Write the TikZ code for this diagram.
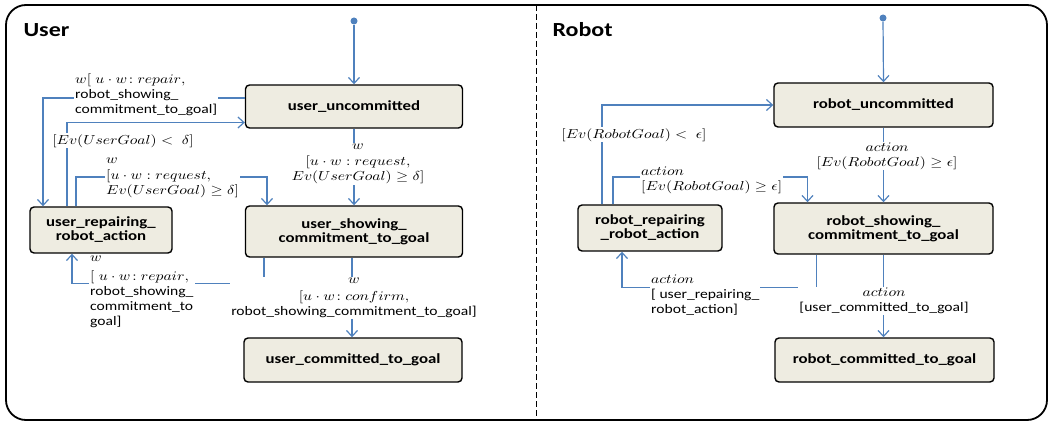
\documentclass[tikz,border=0pt]{standalone}
\usepackage{fontspec}
\setmainfont{Carlito}[FakeStretch=1.2]
\usepackage{graphicx}
\usetikzlibrary{arrows.meta}
\definecolor{edgeblue}{RGB}{79,129,189}
\definecolor{statefill}{RGB}{238,236,225}
\newcommand\mth[1]{\scalebox{1.56}[1.3]{\normalsize$#1$}}
\begin{document}
\begin{tikzpicture}[x=1pt, y=-1pt,
	state/.style = {draw, line width=1.4pt, rounded corners=4pt, fill=statefill, align=center, inner sep=0pt, font=\fontsize{14}{14}\selectfont\bfseries},
	trans/.style = {draw=edgeblue, line width=1.2pt, -{Straight Barb[length=6pt, width=11pt]}},
	lbl/.style = {fill=white, inner sep=1pt, font=\fontsize{13}{15}\selectfont},
	dot/.style = {circle, fill=edgeblue, inner sep=0pt, minimum size=7pt},
	title/.style = {anchor=west, font=\fontsize{20}{20}\selectfont\bfseries}]
		\useasboundingbox (0,0) rectangle (1053,422);
		% Rahmen
		\draw[line width=1.8pt, rounded corners=20pt] (6,5) rectangle (1047,420);
		\draw[dashed, dash pattern=on 6pt off 3pt] (536,5) -- (536,420);
		\node[title] (tuser) at (20,30) {User};
		\node[title] (trobot) at (549,30) {Robot};
		% Zustaende User
		\node[dot] (u0) at (354,21) {};
		\node[state, minimum width=217pt, minimum height=43pt] (uu) at (354,106.5) {user\_uncommitted};
		\node[state, minimum width=142pt, minimum height=46pt] (ur) at (101,230) {user\_repairing\_\\robot\_action};
		\node[state, minimum width=217pt, minimum height=51pt] (us) at (354,231.5) {user\_showing\_\\commitment\_to\_goal};
		\node[state, minimum width=218pt, minimum height=44pt] (uc) at (353,360) {user\_committed\_to\_goal};
		% Zustaende Robot
		\node[dot] (r0) at (883,18) {};
		\node[state, minimum width=219pt, minimum height=44pt] (ru) at (883.5,105) {robot\_uncommitted};
		\node[state, minimum width=144pt, minimum height=46pt] (rr) at (650,228) {robot\_repairing\\\_robot\_action};
		\node[state, minimum width=219pt, minimum height=51pt] (rs) at (883.5,228.5) {robot\_showing\_\\commitment\_to\_goal};
		\node[state, minimum width=219pt, minimum height=44pt] (rc) at (884.5,360) {robot\_committed\_to\_goal};
		% Uebergaenge User
		\draw[trans] (u0) -- (uu.north);							% start
		\draw[trans] (uu.south) -- (us.north);						% uu-us
		\draw[trans] (uu.west |- 0,98) -| ([xshift=-58pt]ur.north);		% uu-ur
		\draw[trans] ([xshift=-34pt]ur.north) |- ([yshift=-16pt]uu.west);	% ur-uu
		\draw[trans] ([xshift=-25pt]ur.north) |- ([xshift=-87pt]us.north |- 0,177) -- ([xshift=-87pt]us.north);	% ur-us
		\draw[trans] ([xshift=-90pt]us.south) -- ++(0,26) -| ([xshift=-29pt]ur.south);	% us-ur
		\draw[trans] ([xshift=-2pt]us.south) -- ([xshift=-1pt]uc.north);		% us-uc
		% Uebergaenge Robot
		\draw[trans] (r0) -- (ru.north);							% start
		\draw[trans] (ru.south) -- (rs.north);						% ru-rs
		\draw[trans] ([xshift=-48pt]rr.north) |- (ru.west);				% rr-ru
		\draw[trans] ([xshift=-37pt]rr.north) |- ([xshift=-76pt]rs.north |- 0,177) -- ([xshift=-76pt]rs.north);	% rr-rs
		\draw[trans] ([xshift=-67pt]rs.south) -- ++(0,33) -| ([xshift=-28pt]rr.south);	% rs-rr
		\draw[trans] (rs.south) -- ([xshift=-1pt]rc.north);				% rs-rc
		% Beschriftungen User
		\node[lbl, align=center] (luus) at (358,164) {\mth{w}\\[1pt] \mth{[u\cdot w : \mathnormal{request},}\\ \mth{Ev(UserGoal) \geq \delta]}};
		\node[lbl, align=left, anchor=north west] (luur) at (74,73) {\mth{w[\ u\cdot w\!: \mathnormal{repair},}\\ robot\_showing\_\\ commitment\_to\_goal]};
		\node[lbl] (luru) at (123,141) {\mth{[Ev(UserGoal) <\ \delta]}};
		\node[lbl, align=left, anchor=north west] (lurs) at (105,157) {\mth{w}\\[1pt] \mth{[u\cdot w : \mathnormal{request},}\\ \mth{Ev(UserGoal) \geq \delta]}};
		\node[lbl, align=left, anchor=north west] (lusr) at (89,255) {\mth{w}\\[4pt] \mth{[\ u\cdot w\!: \mathnormal{repair},}\\ robot\_showing\_\\ commitment\_to\\ goal]};
		\node[lbl, align=center] (lusc) at (354,298) {\mth{w}\\[2pt] \mth{[u\cdot w\!: \mathnormal{confirm},}\\ robot\_showing\_commitment\_to\_goal]};
		% Beschriftungen Robot
		\node[lbl, align=center] (lrurs) at (887,156) {\mth{\mathnormal{action}}\\ \mth{[Ev(RobotGoal) \geq \epsilon]}};
		\node[lbl] (lrrru) at (634,135) {\mth{[Ev(RobotGoal) <\ \epsilon]}};
		\node[lbl, align=left, anchor=north west] (lrrrs) at (640,166) {\mth{\mathnormal{action}}\\ \mth{[Ev(RobotGoal) \geq \epsilon]}};
		\node[lbl, align=left, anchor=north west] (lrsrr) at (650,274) {\mth{\mathnormal{action}}\\ {[} user\_repairing\_\\ robot\_action]};
		\node[lbl, align=center] (lrsrc) at (884,301) {\mth{\mathnormal{action}}\\ {[}user\_committed\_to\_goal]};
\end{tikzpicture}
\end{document}
